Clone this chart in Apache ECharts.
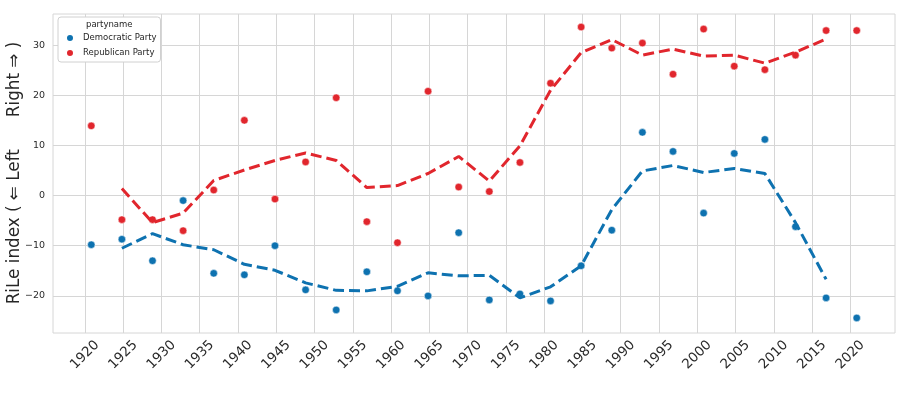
<!DOCTYPE html>
<html>
<head>
<meta charset="utf-8">
<script src="https://cdn.jsdelivr.net/npm/echarts@6/dist/echarts.min.js"></script>
<style>
html,body{margin:0;padding:0;background:#fff;}
#chart{width:903px;height:397px;}
</style>
</head>
<body>
<div id="chart"></div>
<script>
// Election dates (decimal years, early November of each election year)
const electionDates = [1920.84, 1924.84, 1928.84, 1932.84, 1936.84, 1940.84, 1944.84, 1948.84, 1952.84, 1956.84, 1960.84, 1964.84, 1968.84, 1972.84, 1976.84, 1980.84, 1984.84, 1988.84, 1992.84, 1996.84, 2000.84, 2004.84, 2008.84, 2012.84, 2016.84, 2020.84];
const demValues = [-9.8, -8.7, -13.0, -1.0, -15.5, -15.8, -10.0, -18.8, -22.8, -15.2, -19.0, -20.0, -7.4, -20.8, -19.6, -21.0, -14.0, -6.9, 12.6, 8.8, -3.5, 8.4, 11.2, -6.2, -20.4, -24.4];
const repValues = [13.9, -4.8, -4.8, -7.0, 1.1, 15.0, -0.7, 6.7, 19.5, -5.2, -9.4, 20.8, 1.7, 0.8, 6.6, 22.4, 33.6, 29.4, 30.4, 24.2, 33.2, 25.8, 25.1, 28.0, 32.9, 32.9];
// Smoothed trend lines (1924 .. 2016)
const trendDates = [1924.84, 1928.84, 1932.84, 1936.84, 1940.84, 1944.84, 1948.84, 1952.84, 1956.84, 1960.84, 1964.84, 1968.84, 1972.84, 1976.84, 1980.84, 1984.84, 1988.84, 1992.84, 1996.84, 2000.84, 2004.84, 2008.84, 2012.84, 2016.84];
const demTrend = [-10.5, -7.6, -9.8, -10.8, -13.7, -14.9, -17.4, -18.9, -19.0, -18.1, -15.4, -16.0, -15.9, -20.4, -18.2, -14.0, -2.8, 4.9, 6.0, 4.6, 5.4, 4.4, -5.4, -16.7];
const repTrend = [1.4, -5.4, -3.5, 3.0, 5.1, 7.0, 8.5, 7.0, 1.6, 2.0, 4.4, 7.8, 2.9, 9.9, 21.0, 28.5, 31.1, 28.0, 29.2, 27.8, 28.0, 26.4, 28.6, 31.2];
const xTicks = [1920, 1925, 1930, 1935, 1940, 1945, 1950, 1955, 1960, 1965, 1970, 1975, 1980, 1985, 1990, 1995, 2000, 2005, 2010, 2015, 2020];
const yTicks = [-20, -10, 0, 10, 20, 30];
const seriesNames = ['Democratic Party', 'Republican Party'];
const legendTitle = 'partyname';
const yAxisTitle = 'RiLe index ( \u21D0 Left      Right \u21D2 )';

const BLUE = '#0e72b0';
const RED = '#e1262d';
const zip = (xs, ys) => xs.map((x, i) => [x, ys[i]]);

const chart = echarts.init(document.getElementById('chart'), null, {renderer: 'canvas'});
const font = 'DejaVu Sans';
chart.setOption({
  animation: false,
  backgroundColor: '#fff',
  textStyle: {fontFamily: font},
  grid: {left: 53, right: 8, top: 14, bottom: 64, show: true, borderColor: '#d6d6d6', borderWidth: 1, outerBoundsMode: 'none', containLabel: false},
  xAxis: {
    type: 'value', min: 1915.84, max: 2025.84,
    axisLine: {show: false},
    axisTick: {show: false, customValues: xTicks},
    axisLabel: {customValues: xTicks, rotate: 45, fontSize: 13.5, color: '#2b2b2b', margin: 22,
      align: 'center', verticalAlign: 'middle', fontFamily: font, formatter: v => String(v)},
    splitLine: {show: true, lineStyle: {color: '#d6d6d6', width: 1}}
  },
  yAxis: {
    type: 'value', min: -27.4, max: 36.2,
    axisLine: {show: false},
    axisTick: {show: false, customValues: yTicks},
    axisLabel: {customValues: yTicks, fontSize: 9.5, color: '#2b2b2b', margin: 8, fontFamily: font,
      formatter: v => String(v).replace('-', '\u2212')},
    splitLine: {show: true, lineStyle: {color: '#d6d6d6', width: 1}}
  },
  legend: {
    data: seriesNames, orient: 'vertical', left: 58, top: 17,
    padding: [16, 4, 4, 7], itemGap: 5, itemWidth: 16, itemHeight: 8, icon: 'circle',
    backgroundColor: '#fff', borderColor: '#d0d0d0', borderWidth: 1, borderRadius: 3,
    textStyle: {fontSize: 8.5, color: '#262626', fontFamily: font}
  },
  graphic: [{
    type: 'text', left: 86, top: 20, z: 100,
    style: {text: legendTitle, fontSize: 8.5, fill: '#262626', fontFamily: font}
  }, {
    type: 'text', x: 15, y: 173, rotation: Math.PI / 2, z: 100,
    style: {text: yAxisTitle, fontSize: 16.8, fill: '#262626', fontFamily: font, align: 'center', verticalAlign: 'middle'}
  }],
  series: [
    {name: seriesNames[0], type: 'scatter', data: zip(electionDates, demValues), symbolSize: 7.5,
     itemStyle: {color: BLUE, borderColor: '#fff', borderWidth: 0.5, opacity: 1}, z: 3},
    {name: seriesNames[1], type: 'scatter', data: zip(electionDates, repValues), symbolSize: 7.5,
     itemStyle: {color: RED, borderColor: '#fff', borderWidth: 0.5, opacity: 1}, z: 3},
    {name: 'Democratic trend', type: 'line', data: zip(trendDates, demTrend), showSymbol: false, symbol: 'none',
     lineStyle: {color: BLUE, width: 3, type: [11, 5]}, z: 4},
    {name: 'Republican trend', type: 'line', data: zip(trendDates, repTrend), showSymbol: false, symbol: 'none',
     lineStyle: {color: RED, width: 3, type: [11, 5]}, z: 4}
  ]
});
</script>
</body>
</html>
